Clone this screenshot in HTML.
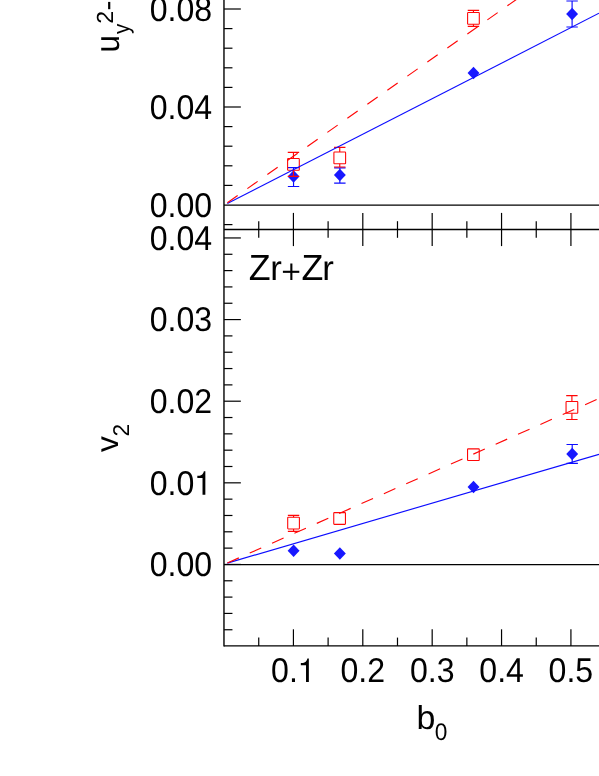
<!DOCTYPE html>
<html><head><meta charset="utf-8"><title>chart</title>
<style>html,body{margin:0;padding:0;background:#fff;}body{width:599px;height:776px;position:relative;overflow:hidden;font-family:"Liberation Sans",sans-serif;}</style></head>
<body>
<svg width="599" height="776" viewBox="0 0 599 776" style="position:absolute;left:0;top:0;will-change:transform;opacity:0.999">
<rect width="599" height="776" fill="#fff"/>
<g stroke="#000" stroke-width="1.4" fill="none" stroke-linecap="butt">
<line x1="223.97" y1="0" x2="223.97" y2="646.6"/>
<line x1="224.05" y1="645.9" x2="599" y2="645.9"/>
<line x1="224.05" y1="229.5" x2="599" y2="229.5"/>
<line x1="224.05" y1="205.0" x2="599" y2="205.0" stroke-width="1.25"/>
<line x1="224.05" y1="564.5" x2="599" y2="564.5" stroke-width="1.25"/>
</g>
<g stroke="#000" stroke-width="1.2" fill="none">
<line x1="258.74" y1="645.9" x2="258.74" y2="637.6"/>
<line x1="258.74" y1="221.2" x2="258.74" y2="237.8"/>
<line x1="293.43" y1="645.9" x2="293.43" y2="629.3"/>
<line x1="293.43" y1="212.9" x2="293.43" y2="246.1"/>
<line x1="328.11" y1="645.9" x2="328.11" y2="637.6"/>
<line x1="328.11" y1="221.2" x2="328.11" y2="237.8"/>
<line x1="362.80" y1="645.9" x2="362.80" y2="629.3"/>
<line x1="362.80" y1="212.9" x2="362.80" y2="246.1"/>
<line x1="397.49" y1="645.9" x2="397.49" y2="637.6"/>
<line x1="397.49" y1="221.2" x2="397.49" y2="237.8"/>
<line x1="432.18" y1="645.9" x2="432.18" y2="629.3"/>
<line x1="432.18" y1="212.9" x2="432.18" y2="246.1"/>
<line x1="466.86" y1="645.9" x2="466.86" y2="637.6"/>
<line x1="466.86" y1="221.2" x2="466.86" y2="237.8"/>
<line x1="501.55" y1="645.9" x2="501.55" y2="629.3"/>
<line x1="501.55" y1="212.9" x2="501.55" y2="246.1"/>
<line x1="536.24" y1="645.9" x2="536.24" y2="637.6"/>
<line x1="536.24" y1="221.2" x2="536.24" y2="237.8"/>
<line x1="570.92" y1="645.9" x2="570.92" y2="629.3"/>
<line x1="570.92" y1="212.9" x2="570.92" y2="246.1"/>
<line x1="605.61" y1="645.9" x2="605.61" y2="637.6"/>
<line x1="605.61" y1="221.2" x2="605.61" y2="237.8"/>
<line x1="224.05" y1="224.60" x2="232.45000000000002" y2="224.60"/>
<line x1="224.05" y1="185.40" x2="232.45000000000002" y2="185.40"/>
<line x1="224.05" y1="165.80" x2="232.45000000000002" y2="165.80"/>
<line x1="224.05" y1="146.20" x2="232.45000000000002" y2="146.20"/>
<line x1="224.05" y1="126.60" x2="232.45000000000002" y2="126.60"/>
<line x1="224.05" y1="107.00" x2="240.85000000000002" y2="107.00"/>
<line x1="224.05" y1="87.40" x2="232.45000000000002" y2="87.40"/>
<line x1="224.05" y1="67.80" x2="232.45000000000002" y2="67.80"/>
<line x1="224.05" y1="48.20" x2="232.45000000000002" y2="48.20"/>
<line x1="224.05" y1="28.60" x2="232.45000000000002" y2="28.60"/>
<line x1="224.05" y1="9.00" x2="240.85000000000002" y2="9.00"/>
<line x1="224.05" y1="629.75" x2="232.45000000000002" y2="629.75"/>
<line x1="224.05" y1="613.43" x2="232.45000000000002" y2="613.43"/>
<line x1="224.05" y1="597.10" x2="232.45000000000002" y2="597.10"/>
<line x1="224.05" y1="580.78" x2="232.45000000000002" y2="580.78"/>
<line x1="224.05" y1="564.45" x2="240.85000000000002" y2="564.45"/>
<line x1="224.05" y1="548.12" x2="232.45000000000002" y2="548.12"/>
<line x1="224.05" y1="531.80" x2="232.45000000000002" y2="531.80"/>
<line x1="224.05" y1="515.48" x2="232.45000000000002" y2="515.48"/>
<line x1="224.05" y1="499.15" x2="232.45000000000002" y2="499.15"/>
<line x1="224.05" y1="482.83" x2="240.85000000000002" y2="482.83"/>
<line x1="224.05" y1="466.50" x2="232.45000000000002" y2="466.50"/>
<line x1="224.05" y1="450.18" x2="232.45000000000002" y2="450.18"/>
<line x1="224.05" y1="433.85" x2="232.45000000000002" y2="433.85"/>
<line x1="224.05" y1="417.52" x2="232.45000000000002" y2="417.52"/>
<line x1="224.05" y1="401.20" x2="240.85000000000002" y2="401.20"/>
<line x1="224.05" y1="384.88" x2="232.45000000000002" y2="384.88"/>
<line x1="224.05" y1="368.55" x2="232.45000000000002" y2="368.55"/>
<line x1="224.05" y1="352.23" x2="232.45000000000002" y2="352.23"/>
<line x1="224.05" y1="335.90" x2="232.45000000000002" y2="335.90"/>
<line x1="224.05" y1="319.57" x2="240.85000000000002" y2="319.57"/>
<line x1="224.05" y1="303.25" x2="232.45000000000002" y2="303.25"/>
<line x1="224.05" y1="286.92" x2="232.45000000000002" y2="286.92"/>
<line x1="224.05" y1="270.60" x2="232.45000000000002" y2="270.60"/>
<line x1="224.05" y1="254.28" x2="232.45000000000002" y2="254.28"/>
<line x1="224.05" y1="237.95" x2="240.85000000000002" y2="237.95"/>
</g>
<path d="M293.55 167.6V186.5M287.85 167.6H299.25M287.85 186.5H299.25" stroke="#0c0cff" stroke-width="1.15" fill="none"/><path d="M293.55 170.35L299.5 176.6L293.55 182.85L287.6 176.6Z" fill="#1818ff"/>
<path d="M293.45 152.4V158.55M293.45 170.25V176.3M287.75 152.4H299.15M287.75 176.3H299.15" stroke="#ff0606" stroke-width="1.15" fill="none"/><rect x="287.60" y="158.55" width="11.7" height="11.7" rx="0.6" stroke="#ff0606" stroke-width="1.08" fill="none"/>
<path d="M339.85 167.8V183.1M334.15000000000003 167.8H345.55M334.15000000000003 183.1H345.55" stroke="#0c0cff" stroke-width="1.15" fill="none"/><path d="M339.85 168.65L345.8 174.9L339.85 181.15L333.90000000000003 174.9Z" fill="#1818ff"/>
<path d="M339.75 147.3V152.05M339.75 163.75V167.0M334.05 147.3H345.45M334.05 167.0H345.45" stroke="#ff0606" stroke-width="1.15" fill="none"/><rect x="333.90" y="152.05" width="11.7" height="11.7" rx="0.6" stroke="#ff0606" stroke-width="1.08" fill="none"/>
<path d="M473.5 66.75L479.45 73.0L473.5 79.25L467.55 73.0Z" fill="#1818ff"/>
<path d="M473.45 10.4V12.549999999999999M473.45 24.25V26.4M467.75 10.4H479.15M467.75 26.4H479.15" stroke="#ff0606" stroke-width="1.15" fill="none"/><rect x="467.60" y="12.55" width="11.7" height="11.7" rx="0.6" stroke="#ff0606" stroke-width="1.08" fill="none"/>
<path d="M572.1 1.0V27.0M566.4 1.0H577.8000000000001M566.4 27.0H577.8000000000001" stroke="#0c0cff" stroke-width="1.15" fill="none"/><path d="M572.1 7.85L578.0500000000001 14.1L572.1 20.35L566.15 14.1Z" fill="#1818ff"/>
<path d="M293.6 544.55L299.55 550.8L293.6 557.05L287.65000000000003 550.8Z" fill="#1818ff"/>
<path d="M293.55 515.3V517.25M293.55 528.95V531.4M287.85 515.3H299.25M287.85 531.4H299.25" stroke="#ff0606" stroke-width="1.15" fill="none"/><rect x="287.70" y="517.25" width="11.7" height="11.7" rx="0.6" stroke="#ff0606" stroke-width="1.08" fill="none"/>
<path d="M339.85 547.25L345.8 553.5L339.85 559.75L333.90000000000003 553.5Z" fill="#1818ff"/>
<rect x="333.75" y="512.65" width="11.7" height="11.7" rx="0.6" stroke="#ff0606" stroke-width="1.08" fill="none"/>
<path d="M473.5 480.65L479.45 486.9L473.5 493.15L467.55 486.9Z" fill="#1818ff"/>
<rect x="467.55" y="448.85" width="11.7" height="11.7" rx="0.6" stroke="#ff0606" stroke-width="1.08" fill="none"/>
<path d="M572.2 444.5V463.3M566.5 444.5H577.9000000000001M566.5 463.3H577.9000000000001" stroke="#0c0cff" stroke-width="1.15" fill="none"/><path d="M572.2 447.85L578.1500000000001 454.1L572.2 460.35L566.25 454.1Z" fill="#1818ff"/>
<path d="M571.9 395.6V401.54999999999995M571.9 413.25V419.5M566.1999999999999 395.6H577.6M566.1999999999999 419.5H577.6" stroke="#ff0606" stroke-width="1.15" fill="none"/><rect x="566.05" y="401.55" width="11.7" height="11.7" rx="0.6" stroke="#ff0606" stroke-width="1.08" fill="none"/>
<g fill="none" stroke-width="1.15">
<line x1="227.35" y1="203.5" x2="599" y2="13.2" stroke="#0c0cff"/>
<line x1="227.35" y1="202.7" x2="599" y2="-58.6" stroke="#ff0606" stroke-dasharray="12.6 11.85"/>
<line x1="227.35" y1="563.1" x2="599" y2="454.3" stroke="#0c0cff"/>
<line x1="227.35" y1="562.95" x2="599" y2="398.5" stroke="#ff0606" stroke-dasharray="12.6 11.85"/>
</g>
<g font-family="Liberation Sans, sans-serif" fill="#000" text-rendering="geometricPrecision">
<text transform="translate(212.2,20.8) scale(0.9325,1)" font-size="34.4" text-anchor="end">0.08</text>
<text transform="translate(212.2,118.8) scale(0.9325,1)" font-size="34.4" text-anchor="end">0.04</text>
<text transform="translate(212.2,216.8) scale(0.9325,1)" font-size="34.4" text-anchor="end">0.00</text>
<text transform="translate(212.2,249.75) scale(0.9325,1)" font-size="34.4" text-anchor="end">0.04</text>
<text transform="translate(212.2,331.38) scale(0.9325,1)" font-size="34.4" text-anchor="end">0.03</text>
<text transform="translate(212.2,413.0) scale(0.9325,1)" font-size="34.4" text-anchor="end">0.02</text>
<text transform="translate(212.2,576.25) scale(0.9325,1)" font-size="34.4" text-anchor="end">0.00</text>
<text transform="translate(149.78,494.63) scale(0.9325,1)" font-size="34.4" text-anchor="start">0.0</text>
<path transform="translate(194.06,494.63) scale(0.03207,-0.03310)" d="M264 0L264 505L102 505L102 568C189 573 284 590 306 709L352 709L352 0Z"/>
<text transform="translate(271.11,681.9) scale(0.9325,1)" font-size="34.4" text-anchor="start">0.</text>
<path transform="translate(297.56,681.9) scale(0.03207,-0.03310)" d="M264 0L264 505L102 505L102 568C189 573 284 590 306 709L352 709L352 0Z"/>
<text transform="translate(362.8,681.9) scale(0.9325,1)" font-size="34.4" text-anchor="middle">0.2</text>
<text transform="translate(432.2,681.9) scale(0.9325,1)" font-size="34.4" text-anchor="middle">0.3</text>
<text transform="translate(501.6,681.9) scale(0.9325,1)" font-size="34.4" text-anchor="middle">0.4</text>
<text transform="translate(570.9,681.9) scale(0.9325,1)" font-size="34.4" text-anchor="middle">0.5</text>
<text transform="translate(248.8,279.8) scale(0.985,1)" font-size="36.3" text-anchor="start">Z</text>
<text transform="translate(270.2,279.8) scale(1.0,1)" font-size="34.8" text-anchor="start">r</text>
<text transform="translate(301.5,279.8) scale(0.985,1)" font-size="36.3" text-anchor="start">Z</text>
<text transform="translate(322.3,279.8) scale(1.0,1)" font-size="34.8" text-anchor="start">r</text>
<rect x="282.9" y="270.75" width="16.4" height="2.1"/><rect x="290.3" y="263.5" width="2.1" height="16.5"/>
<text transform="translate(416.4,729.3) scale(1.02,1)" font-size="33.3" text-anchor="start">b</text>
<text transform="translate(434.8,740.3) scale(0.95,1)" font-size="23.9" text-anchor="start">0</text>
<text transform="translate(118,451.9) rotate(-90) scale(1.0,1)" font-size="31.5" text-anchor="start">v</text>
<text transform="translate(128.9,436.6) rotate(-90) scale(1.0,1)" font-size="22.8" text-anchor="start">2</text>
<text transform="translate(118.6,52.4) rotate(-90) scale(0.93,1)" font-size="33.7" text-anchor="start">u</text>
<text transform="translate(128.9,34.0) rotate(-90) scale(0.9,1)" font-size="22.6" text-anchor="start">y</text>
<text transform="translate(112.5,23.7) rotate(-90) scale(0.99,1)" font-size="23.3" text-anchor="start">2</text>
<rect x="108.1" y="1.9" width="2.2" height="7.3"/>
</g>
</svg>
</body></html>
